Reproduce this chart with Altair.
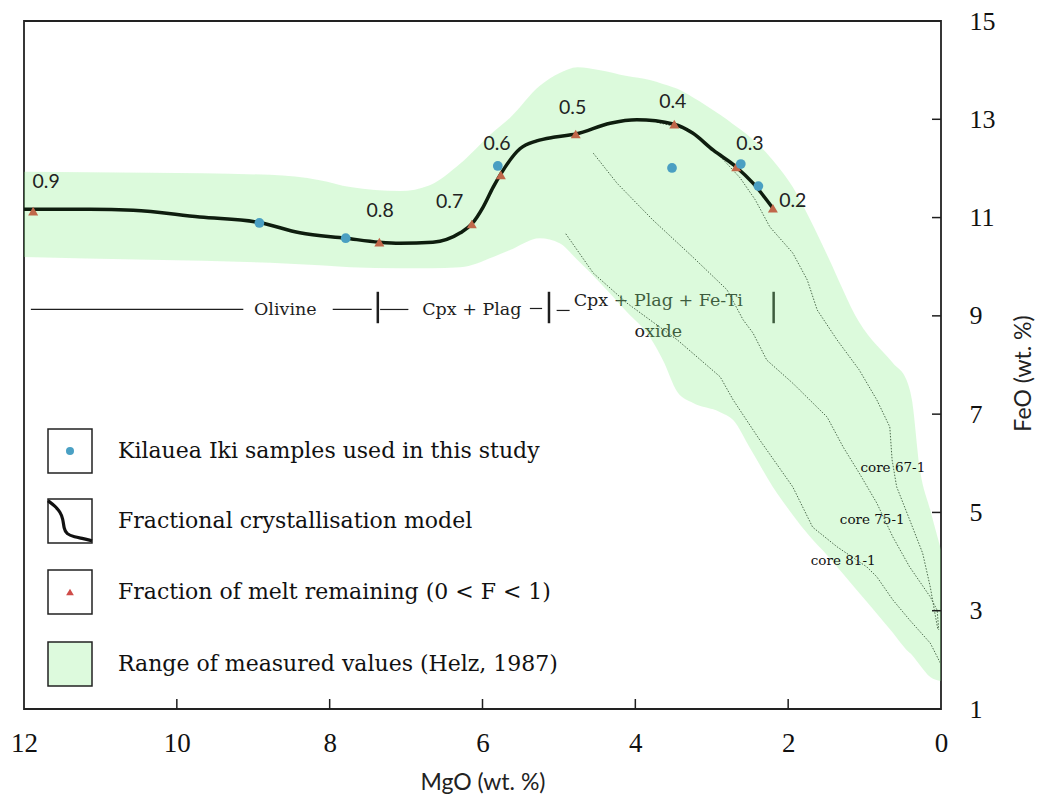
import altair as alt
import pandas as pd

# ---------------- data ----------------
# Fractional crystallisation model curve
model_mgo = [12.00, 11.14, 10.57, 9.70, 8.92, 8.39, 7.79, 7.35, 7.08, 6.65, 6.29, 6.14, 5.99,
             5.86, 5.76, 5.51, 5.29, 5.05, 4.78, 4.33, 3.98, 3.49, 3.25, 2.98, 2.68, 2.46, 2.20]
model_feo = [11.17, 11.17, 11.15, 11.01, 10.90, 10.69, 10.58, 10.50, 10.48, 10.50, 10.69, 10.87, 11.22,
             11.62, 11.89, 12.40, 12.56, 12.64, 12.70, 12.92, 12.99, 12.90, 12.72, 12.37, 12.03, 11.70, 11.19]

# Fraction of melt remaining markers
frac_F = [0.9, 0.8, 0.7, 0.6, 0.5, 0.4, 0.3, 0.2]
frac_mgo = [11.88, 7.35, 6.14, 5.76, 4.78, 3.49, 2.68, 2.20]
frac_feo = [11.13, 10.50, 10.87, 11.87, 12.70, 12.90, 12.03, 11.19]
frac_label_mgo = [11.71, 7.34, 6.43, 5.81, 4.82, 3.51, 2.50, 1.94]
frac_label_feo = [11.72, 11.13, 11.32, 12.50, 13.23, 13.35, 12.50, 11.34]

# Kilauea Iki samples
sample_mgo = [8.92, 7.79, 5.80, 3.52, 2.62, 2.39]
sample_feo = [10.89, 10.58, 12.05, 12.01, 12.09, 11.64]

# Range of measured values (Helz, 1987)
band_mgo = [12.00, 10.35, 8.78, 8.13, 7.73, 7.08, 6.69, 6.29, 5.86, 5.64, 5.25, 4.99, 4.76, 4.46,
            4.11, 3.81, 3.64, 3.45, 3.25, 2.89, 2.72, 2.50, 2.15, 1.94, 1.71, 1.49, 1.07, 0.63,
            0.45, 0.38, 0.28, 0.14, 0.00]
band_hi = [11.93, 11.91, 11.87, 11.76, 11.62, 11.54, 11.66, 12.10, 12.74, 13.03, 13.68, 13.94, 14.06,
           14.00, 13.88, 13.80, 13.72, 13.62, 13.45, 13.09, 12.90, 12.64, 12.07, 11.62, 10.95, 10.24,
           8.87, 8.04, 7.69, 7.29, 5.92, 5.05, 4.24]
band_lo = [10.20, 10.14, 10.08, 10.03, 9.99, 9.97, 9.97, 9.99, 10.20, 10.34, 10.58, 10.48, 10.14,
           9.67, 9.08, 8.57, 8.10, 7.45, 7.23, 7.04, 6.88, 6.31, 5.40, 4.95, 4.50, 4.13, 3.36, 2.55,
           2.20, 2.10, 1.90, 1.65, 1.57]

# Drill-core trends (dotted)
core81_mgo = [4.91, 4.55, 4.11, 3.45, 2.89, 2.72, 2.37, 1.94, 1.68, 1.36, 0.97, 0.84, 0.63, 0.41, 0.14, 0.01]
core81_feo = [10.67, 9.87, 9.26, 8.51, 7.76, 7.29, 6.47, 5.52, 4.70, 4.30, 3.89, 3.69, 3.22, 2.81, 2.34, 1.94]
core75_mgo = [4.55, 4.24, 3.77, 3.25, 2.80, 2.59, 2.46, 2.28, 1.94, 1.49, 1.28, 1.07, 0.84, 0.63, 0.41,
              0.14, 0.05, 0.03]
core75_feo = [12.31, 11.70, 10.95, 10.20, 9.53, 8.92, 8.65, 8.10, 7.63, 6.94, 6.33, 5.80, 5.19, 4.50, 3.89,
              3.28, 3.01, 2.61]
core67_mgo = [3.72, 3.28, 2.94, 2.63, 2.43, 2.24, 1.94, 1.75, 1.62, 1.36, 1.07, 0.84, 0.67, 0.64, 0.58,
              0.41, 0.24, 0.14, 0.08, 0.04]
core67_feo = [12.94, 12.78, 12.33, 11.81, 11.36, 10.81, 10.28, 9.73, 9.12, 8.51, 7.90, 7.29, 6.74, 6.07,
              5.52, 4.85, 4.17, 3.48, 2.95, 2.61]
core_names = ["core 67-1", "core 75-1", "core 81-1"]
core_label_mgo = [0.63, 0.90, 1.28]
core_label_feo = [5.90, 4.85, 4.01]

# Crystallising-phase annotation
phase_texts = ["Olivine", "Cpx + Plag", "Cpx + Plag + Fe-Ti", "oxide"]
phase_text_mgo = [8.58, 6.14, 3.70, 3.70]
phase_text_feo = [9.12, 9.12, 9.30, 8.67]
phase_seg_from = [11.91, 7.96, 7.34, 5.38, 5.03]
phase_seg_to = [9.13, 7.45, 6.97, 5.22, 4.86]
phase_seg_feo = [9.13, 9.13, 9.13, 9.15, 9.11]
phase_bar_mgo = [7.37, 5.13, 2.19]
phase_bar_top = 9.49
phase_bar_bottom = 8.85

# Axes
x_ticks = [12, 10, 8, 6, 4, 2, 0]
y_ticks = [1, 3, 5, 7, 9, 11, 13, 15]
x_inner_ticks = [10, 8, 6, 4, 2]
y_inner_ticks = [13, 11, 9, 7, 5, 3]

legend_labels = ["Kilauea Iki samples used in this study",
                 "Fractional crystallisation model",
                 "Fraction of melt remaining (0 < F < 1)",
                 "Range of measured values (Helz, 1987)"]

# ---------------- layout ----------------
W, H = 917, 688
BAND = "#8af08a"
INK = "#1e1e1e"


def to_mgo(px):
    return 12 - px * 12 / W


def to_feo(py):
    return 15 - py * 14 / H


xscale = alt.Scale(domain=[0, 12], reverse=True, nice=False, zero=False)
yscale = alt.Scale(domain=[1, 15], nice=False, zero=False)
xaxis = alt.Axis(values=x_ticks, format="d", ticks=False, domain=False, grid=False,
                 labelFont="Liberation Serif", labelFontSize=27, labelColor="#111",
                 labelPadding=21, labelFlush=False, labelOverlap=False,
                 title="MgO (wt. %)", titleFont="Lato", titleFontSize=23,
                 titleFontWeight="normal", titleColor="#222",
                 titleX=458.5, titleY=73, titleBaseline="middle", titleAlign="center")
yaxis = alt.Axis(orient="right", values=y_ticks, format="d", ticks=False, domain=False, grid=False,
                 labelFont="Liberation Serif", labelFontSize=26, labelColor="#111",
                 labelPadding=28, labelFlush=False, labelOverlap=False,
                 labelAlign="left", labelBaseline="middle",
                 title="FeO (wt. %)", titleFont="Lato", titleFontSize=23,
                 titleFontWeight="normal", titleColor="#222", titleAngle=270,
                 titleX=82, titleY=352, titleBaseline="middle", titleAlign="center")


def X(f):
    return alt.X(f, type="quantitative", scale=xscale, axis=xaxis)


def Y(f):
    return alt.Y(f, type="quantitative", scale=yscale, axis=yaxis)


# ---------------- tables ----------------
model_df = pd.DataFrame({"MgO": model_mgo, "FeO": model_feo})
frac_df = pd.DataFrame({"MgO": frac_mgo, "FeO": frac_feo, "F": frac_F,
                        "lx": frac_label_mgo, "ly": frac_label_feo})
sample_df = pd.DataFrame({"MgO": sample_mgo, "FeO": sample_feo})
band_df = pd.DataFrame({"MgO": band_mgo, "hi": band_hi, "lo": band_lo})
core_frames = []
for name, xs, ys in [("core 67-1", core67_mgo, core67_feo),
                     ("core 75-1", core75_mgo, core75_feo),
                     ("core 81-1", core81_mgo, core81_feo)]:
    core_frames.append(pd.DataFrame({"MgO": xs, "FeO": ys, "core": name, "i": range(len(xs))}))
core_df = pd.concat(core_frames, ignore_index=True)
core_lab_df = pd.DataFrame({"MgO": core_label_mgo, "FeO": core_label_feo, "label": core_names})
phase_txt_df = pd.DataFrame({"MgO": phase_text_mgo, "FeO": phase_text_feo, "label": phase_texts})
phase_seg_df = pd.DataFrame({"a": phase_seg_from, "b": phase_seg_to, "FeO": phase_seg_feo})
phase_bar_df = pd.DataFrame({"MgO": phase_bar_mgo, "top": phase_bar_top, "bot": phase_bar_bottom})

# ---------------- layers ----------------
cores = alt.Chart(core_df).mark_line(color="#333", strokeWidth=1, strokeDash=[1.5, 1.5]).encode(
    x=X("MgO"), y=Y("FeO"), detail="core:N", order="i:Q")
segs = alt.Chart(phase_seg_df).mark_rule(color=INK, strokeWidth=1.2).encode(
    x=X("a"), x2="b", y=Y("FeO"))
bars = alt.Chart(phase_bar_df).mark_rule(color=INK, strokeWidth=2.5).encode(
    x=X("MgO"), y=Y("top"), y2="bot")
phase_txt = alt.Chart(phase_txt_df).mark_text(font="DejaVu Serif", fontSize=17.5, color=INK,
                                               baseline="middle").encode(
    x=X("MgO"), y=Y("FeO"), text="label:N")
band = alt.Chart(band_df).mark_area(color=BAND, opacity=0.3, interpolate="monotone").encode(
    x=X("MgO"), y=Y("hi"), y2="lo")
model = alt.Chart(model_df).mark_line(color="#0e1d0e", strokeWidth=3.5, interpolate="monotone").encode(
    x=X("MgO"), y=Y("FeO"))
tris = alt.Chart(frac_df).mark_point(shape="triangle-up", filled=True, size=100, color="#c0674a",
                                     opacity=1).encode(x=X("MgO"), y=Y("FeO"))
dots = alt.Chart(sample_df).mark_circle(size=95, color="#4a9fc2", opacity=1).encode(
    x=X("MgO"), y=Y("FeO"))
flabs = alt.Chart(frac_df).mark_text(font="Lato", fontSize=19.5, color="#222", baseline="middle").encode(
    x=X("lx"), y=Y("ly"), text=alt.Text("F:Q", format=".1f"))
core_labs = alt.Chart(core_lab_df).mark_text(font="DejaVu Serif", fontSize=13.5, color="#111",
                                             baseline="middle").encode(
    x=X("MgO"), y=Y("FeO"), text="label:N")

xt = alt.Chart(pd.DataFrame({"MgO": x_inner_ticks})).mark_rule(color=INK, strokeWidth=1.5).encode(
    x=X("MgO"), y=alt.value(H), y2=alt.value(H - 10))
yt = alt.Chart(pd.DataFrame({"FeO": y_inner_ticks})).mark_rule(color=INK, strokeWidth=1.5).encode(
    y=Y("FeO"), x=alt.value(W), x2=alt.value(W - 9))

# ---------------- legend ----------------
box_left, box_right, box_half = 24, 68, 22
row_centres = [430, 500, 571, 643]
text_left = 94
box_df = pd.DataFrame({
    "x1": [to_mgo(box_left)] * 4, "x2": [to_mgo(box_right)] * 4,
    "y1": [to_feo(c - box_half) for c in row_centres],
    "y2": [to_feo(c + box_half) for c in row_centres],
    "fill": ["white", "white", "white", "#ddfadd"]})
boxes = alt.Chart(box_df).mark_rect(stroke="#222", strokeWidth=1.5).encode(
    x=X("x1"), x2="x2", y=Y("y1"), y2="y2", fill=alt.Fill("fill:N", scale=None))
cx = (box_left + box_right) / 2
leg_dot = alt.Chart(pd.DataFrame({"MgO": [to_mgo(cx)], "FeO": [to_feo(row_centres[0])]})).mark_circle(
    size=65, color="#4aa0c4", opacity=1).encode(x=X("MgO"), y=Y("FeO"))
leg_tri = alt.Chart(pd.DataFrame({"MgO": [to_mgo(cx)], "FeO": [to_feo(row_centres[2])]})).mark_point(
    shape="triangle-up", filled=True, size=60, color="#cf4c49", opacity=1).encode(x=X("MgO"), y=Y("FeO"))
glyph_fx = [0.0, 0.16, 0.28, 0.34, 0.36, 0.42, 0.6, 0.8, 1.0]
glyph_fy = [0.04, 0.16, 0.3, 0.45, 0.66, 0.8, 0.86, 0.9, 0.95]
top = row_centres[1] - box_half
glyph_df = pd.DataFrame({
    "MgO": [to_mgo(box_left + f * (box_right - box_left)) for f in glyph_fx],
    "FeO": [to_feo(top + f * 2 * box_half) for f in glyph_fy],
    "i": range(len(glyph_fx))})
leg_curve = alt.Chart(glyph_df).mark_line(color="#111", strokeWidth=3.2, interpolate="basis").encode(
    x=X("MgO"), y=Y("FeO"), order="i:Q")
leg_txt = alt.Chart(pd.DataFrame({"MgO": [to_mgo(text_left)] * 4,
                                  "FeO": [to_feo(c) for c in row_centres],
                                  "label": legend_labels})).mark_text(
    font="DejaVu Serif", fontSize=22, color="#111", align="left", baseline="middle").encode(
    x=X("MgO"), y=Y("FeO"), text="label:N")

chart = alt.layer(
    cores, segs, bars, phase_txt, band, model, tris, dots, flabs, core_labs, xt, yt,
    boxes, leg_dot, leg_tri, leg_curve, leg_txt
).properties(
    width=W, height=H,
    autosize=alt.AutoSizeParams(type="none"),
    padding={"left": 16, "top": 13, "right": 95, "bottom": 86},
).configure_view(stroke="#222", strokeWidth=1.8)

chart.save("out.html", embed_options={"renderer": "svg", "actions": False})
